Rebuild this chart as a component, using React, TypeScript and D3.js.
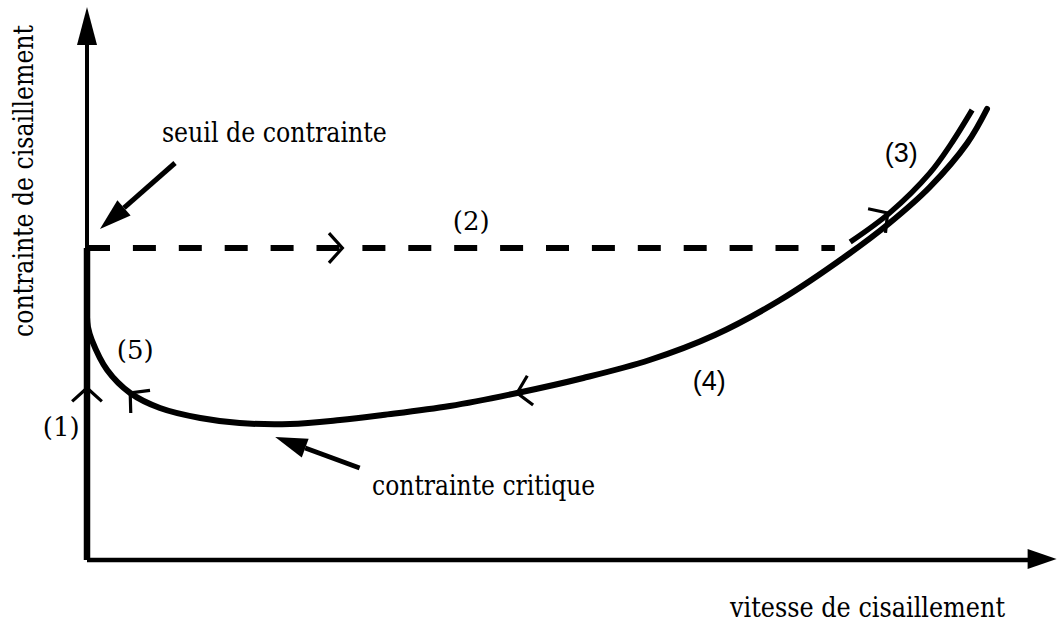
import React from 'react';
import * as d3 from 'd3';

// rheogram (arbitrary units: shear rate 0-100, stress 0-100)
const curveShear = [0, 0.1, 0.5, 2.1, 4.5, 7.6, 11.8, 15.9, 21.15, 26.35, 30.8, 37.8, 44.8, 51.7, 58.6, 65.4, 72.2, 79.2, 83.6, 87.8, 91.7, 93.75];
const curveStress = [48.5, 46.6, 44, 38, 33.4, 30.4, 28.4, 27.4, 27.2, 28, 29, 30.8, 33.4, 36.4, 40, 45, 52, 61, 67.4, 74.6, 83.4, 90.2];

// branch (3): flow after yield, parallel to the curve
const upShear = [79.5, 83.6, 87.8, 90.0, 92.2];
const upStress = [63.6, 69.4, 77.4, 83.2, 90];

// yield stress plateau (2)
const yieldStress = 62.4;
const plateauEnd = 77.9;

// direction chevrons: position along the paths and travel direction (deg, screen)
const chevShear = [0, 4.5, 44.8, 26.6, 83.4];
const chevStress = [34.4, 33.4, 33.4, 62.4, 69.4];
const chevDir = [-90, -139.6, 168.7, 0, -35.8];

// segment labels
const segLabels = ['(1)', '(2)', '(3)', '(4)', '(5)'];
const segShear = [-4.6, 38.1, 83.1, 63.1, 3.1];
const segStress = [24.8, 66, 79.6, 34, 40.2];
const segSans = [false, false, true, true, false];

// annotations with pointing arrows
const notes = ['seuil de contrainte', 'contrainte critique'];
const noteShear = [7.8, 29.7];
const noteStress = [83.6, 13];
const noteLen = [225, 223];
const arrowFrom = [[9.17, 79.4], [28.4, 18.4]];
const arrowTo = [[1.35, 66.2], [19.6, 24.6]];

const W = 1058;
const H = 627;
const serif = 'DejaVu Serif, serif';
const sans = 'Liberation Sans, Arimo, Arial, DejaVu Sans, sans-serif';

export default function App() {
  const x = d3.scaleLinear().domain([0, 100]).range([87, 1047]);
  const y = d3.scaleLinear().domain([0, 100]).range([560, 60]);

  const line = d3
    .line<[number, number]>()
    .x(d => x(d[0]))
    .y(d => y(d[1]))
    .curve(d3.curveCatmullRom.alpha(0.5));

  const mainPts = curveShear.map((s, i) => [s, curveStress[i]] as [number, number]);
  const upPts = upShear.map((s, i) => [s, upStress[i]] as [number, number]);

  const x0 = x(0);
  const y0 = y(0);
  const yTop = y(110.6);
  const xRight = x(101);

  const chevron = (i: number) => {
    const tx = x(chevShear[i]);
    const ty = y(chevStress[i]);
    const back = ((chevDir[i] + 180) * Math.PI) / 180;
    const spread = (48 * Math.PI) / 180;
    const L = 20;
    const a1 = [tx + L * Math.cos(back - spread), ty + L * Math.sin(back - spread)];
    const a2 = [tx + L * Math.cos(back + spread), ty + L * Math.sin(back + spread)];
    return `M${a1[0]},${a1[1]}L${tx},${ty}L${a2[0]},${a2[1]}`;
  };

  const pointer = (i: number) => {
    const [fx, fy] = [x(arrowFrom[i][0]), y(arrowFrom[i][1])];
    const [tx, ty] = [x(arrowTo[i][0]), y(arrowTo[i][1])];
    const ang = Math.atan2(ty - fy, tx - fx);
    const hl = 32;
    const hw = 10;
    const bx = tx - hl * Math.cos(ang);
    const by = ty - hl * Math.sin(ang);
    const nx = -Math.sin(ang);
    const ny = Math.cos(ang);
    return (
      <g key={'p' + i}>
        <line x1={fx} y1={fy} x2={bx} y2={by} stroke="#000" strokeWidth={5} />
        <polygon
          points={`${tx},${ty} ${bx + nx * hw},${by + ny * hw} ${bx - nx * hw},${by - ny * hw}`}
          fill="#000"
        />
      </g>
    );
  };

  return (
    <svg
      width={W}
      height={H}
      style={{ position: 'absolute', left: 0, top: 0, background: '#fff', display: 'block' }}
    >
      {/* axes */}
      <line x1={x0} y1={y0} x2={x0} y2={yTop + 34} stroke="#000" strokeWidth={4} />
      <polygon points={`${x0},${yTop} ${x0 - 10},${yTop + 38} ${x0 + 10},${yTop + 38}`} fill="#000" />
      <line x1={x0} y1={y0} x2={xRight - 26} y2={y0} stroke="#000" strokeWidth={4.5} />
      <polygon points={`${xRight},${y0 - 1} ${xRight - 29},${y0 - 11} ${xRight - 29},${y0 + 9}`} fill="#000" />

      {/* (1) rise along the stress axis */}
      <line x1={x0} y1={y0} x2={x0} y2={y(yieldStress)} stroke="#000" strokeWidth={6.5} />

      {/* (2) yield plateau */}
      <line
        x1={x0}
        y1={y(yieldStress)}
        x2={x(plateauEnd)}
        y2={y(yieldStress)}
        stroke="#000"
        strokeWidth={6}
        strokeDasharray="23 22.9"
      />

      {/* (5)-(4) curve */}
      <path d={line(mainPts) || ''} fill="none" stroke="#000" strokeWidth={6} strokeLinecap="round" />
      {/* (3) */}
      <path d={line(upPts) || ''} fill="none" stroke="#000" strokeWidth={5.5} strokeLinecap="butt" />

      {chevDir.map((_, i) => (
        <path key={'c' + i} d={chevron(i)} fill="none" stroke="#000" strokeWidth={3.2} />
      ))}

      {notes.map((_, i) => pointer(i))}

      {segLabels.map((t, i) => (
        <text
          key={t}
          x={x(segShear[i])}
          y={y(segStress[i])}
          style={{ fontFamily: segSans[i] ? sans : serif, fontSize: segSans[i] ? 27 : 26 }}
          fill="#000"
        >
          {t}
        </text>
      ))}

      {notes.map((t, i) => (
        <text
          key={t}
          x={x(noteShear[i])}
          y={y(noteStress[i])}
          style={{ fontFamily: serif, fontSize: 27 }}
          textLength={noteLen[i]}
          lengthAdjust="spacingAndGlyphs"
          fill="#000"
        >
          {t}
        </text>
      ))}

      {/* axis titles */}
      <text
        x={730}
        y={617}
        style={{ fontFamily: serif, fontSize: 27 }}
        textLength={275}
        lengthAdjust="spacingAndGlyphs"
        fill="#000"
      >
        vitesse de cisaillement
      </text>
      <text
        transform="translate(33,337) rotate(-90)"
        style={{ fontFamily: serif, fontSize: 27 }}
        textLength={312}
        lengthAdjust="spacingAndGlyphs"
        fill="#000"
      >
        contrainte de cisaillement
      </text>
    </svg>
  );
}
